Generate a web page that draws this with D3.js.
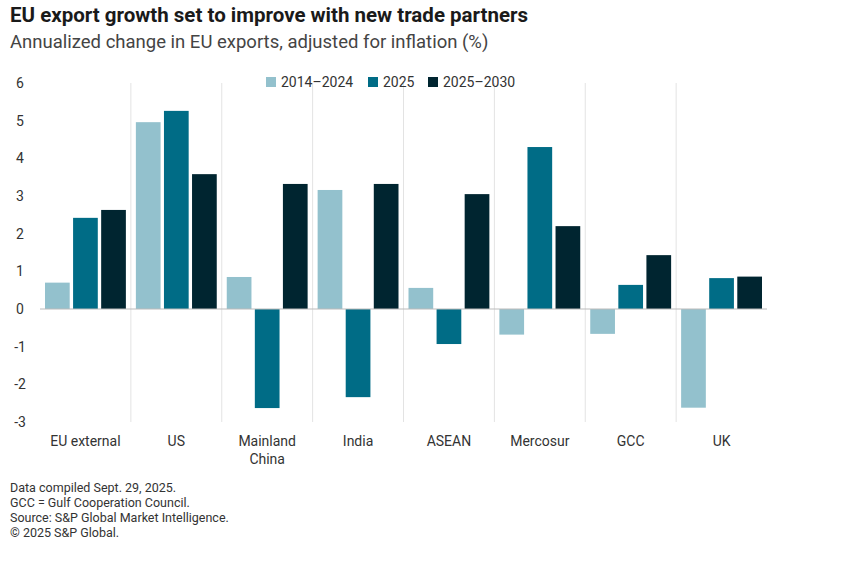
<!DOCTYPE html>
<html>
<head>
<meta charset="utf-8">
<script src="https://cdn.jsdelivr.net/npm/d3@7"></script>
<style>
  body { margin: 0; background: #fff; font-family: "Roboto", "Liberation Sans", sans-serif; }
</style>
</head>
<body>
<svg id="chart" width="864" height="587"></svg>
<script>
// data
const categories = ['EU external', 'US', 'Mainland\nChina', 'India', 'ASEAN', 'Mercosur', 'GCC', 'UK'];
const seriesNames = ['2014\u20132024', '2025', '2025\u20132030'];
const hist = [0.70, 4.96, 0.85, 3.16, 0.56, -0.68, -0.66, -2.62];
const y2025 = [2.42, 5.26, -2.63, -2.34, -0.93, 4.30, 0.64, 0.82];
const fwd = [2.63, 3.58, 3.32, 3.32, 3.05, 2.20, 1.43, 0.86];
const yTicks = [-3, -2, -1, 0, 1, 2, 3, 4, 5, 6];
const colors = ['#93c1cd', '#006c86', '#002530'];
const notes = [
  'Data compiled Sept. 29, 2025.',
  'GCC = Gulf Cooperation Council.',
  'Source: S&P Global Market Intelligence.',
  '\u00a9 2025 S&P Global.'
];

const series = [hist, y2025, fwd];
const svg = d3.select('#chart');

svg.append('text').attr('x', 10).attr('y', 22)
  .attr('font-size', 20.5).attr('font-weight', 700).attr('fill', '#1a1a1a')
  .text('EU export growth set to improve with new trade partners');
svg.append('text').attr('x', 10).attr('y', 48)
  .attr('font-size', 18.5).attr('fill', '#444')
  .text('Annualized change in EU exports, adjusted for inflation (%)');

const x = d3.scaleBand().domain(d3.range(categories.length)).range([40, 767]);
const xi = d3.scaleBand().domain(d3.range(3)).range([5, x.bandwidth() - 5]).paddingInner(0.12);
const y = d3.scaleLinear().domain([-3, 6]).range([422, 83]);

// separators between categories
svg.append('g').selectAll('line').data(d3.range(1, categories.length)).join('line')
  .attr('x1', d => x(d)).attr('x2', d => x(d))
  .attr('y1', y(6)).attr('y2', y(-3))
  .attr('stroke', '#e3e3e3');

// y tick labels
svg.append('g').selectAll('text').data(yTicks).join('text')
  .attr('x', 20).attr('y', d => y(d) + 5)
  .attr('text-anchor', 'middle').attr('font-size', 14).attr('fill', '#333')
  .text(d => d);

const groups = svg.append('g').selectAll('g').data(categories).join('g')
  .attr('transform', (d, i) => `translate(${x(i)},0)`);

groups.selectAll('rect').data((d, i) => series.map((s, k) => ({ k, v: s[i] }))).join('rect')
  .attr('x', d => xi(d.k)).attr('width', xi.bandwidth())
  .attr('y', d => y(Math.max(0, d.v)))
  .attr('height', d => Math.abs(y(d.v) - y(0)))
  .attr('fill', d => colors[d.k]);

svg.append('line').attr('x1', 40).attr('x2', 767)
  .attr('y1', y(0)).attr('y2', y(0)).attr('stroke', '#bbb');

// category labels
groups.append('text')
  .attr('x', x.bandwidth() / 2).attr('y', 446)
  .attr('text-anchor', 'middle').attr('font-size', 14).attr('fill', '#333')
  .selectAll('tspan').data(d => d.split('\n')).join('tspan')
  .attr('x', x.bandwidth() / 2).attr('dy', (d, i) => i ? 18 : 0)
  .text(d => d);

// legend
const legend = svg.append('g').attr('transform', 'translate(266,84)');
const legX = [0, 102, 162];
seriesNames.forEach((n, k) => {
  legend.append('rect').attr('x', legX[k]).attr('y', -7).attr('width', 10).attr('height', 10).attr('fill', colors[k]);
  legend.append('text').attr('x', legX[k] + 15).attr('y', 3).attr('font-size', 14).attr('fill', '#333').text(n);
});

svg.append('g').selectAll('text').data(notes).join('text')
  .attr('x', 10).attr('y', (d, i) => 492 + i * 15)
  .attr('font-size', 12.5).attr('fill', '#333').text(d => d);
</script>
</body>
</html>
